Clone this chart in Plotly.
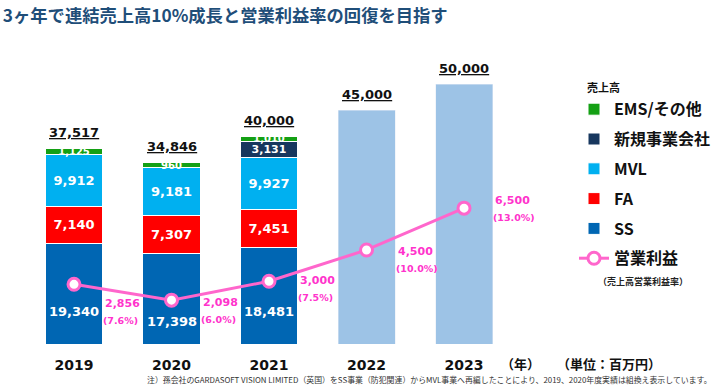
import plotly.graph_objects as go

years = ["2019", "2020", "2021", "2022", "2023"]
ss = [19340, 17398, 18481, None, None]
fa = [7140, 7307, 7451, None, None]
mvl = [9912, 9181, 9927, None, None]
shinki = [None, None, 3131, None, None]
ems = [1125, 960, 1010, None, None]
plan = [None, None, None, 45000, 50000]
totals = [37517, 34846, 40000, 45000, 50000]
profit = [2856, 2098, 3000, 4500, 6500]
margin_pct = ["(7.6%)", "(6.0%)", "(7.5%)", "(10.0%)", "(13.0%)"]

x = list(range(len(years)))
NUM_FONT = "DejaVu Sans"
JP_FONT = "Noto Sans CJK JP"
BW = 0.585

fig = go.Figure()

def seg(name, vals, color, size, rank, show_text=True):
    fig.add_trace(go.Bar(
        x=x, y=vals, name=name, width=BW, marker=dict(color=color, line=dict(width=1, color="white")),
        text=[f"{v:,}" if (v and show_text) else "" for v in vals],
        textposition="inside", insidetextanchor="middle", constraintext="none",
        textfont=dict(family=NUM_FONT, size=size, color="white", weight="bold"),
        legendgroup=name, legendrank=rank, hoverinfo="skip",
    ))

seg("SS", ss, "#0066B3", 13, 5, show_text=False)
seg("FA", fa, "#FF0000", 13, 4)
seg("MVL", mvl, "#00B0F0", 13, 3)
seg("新規事業会社", shinki, "#17375E", 11, 2)
seg("EMS/その他", ems, "#14A014", 10, 1)

fig.add_trace(go.Bar(x=x, y=plan, width=BW, marker=dict(color="#9DC3E6"),
                     showlegend=False, hoverinfo="skip"))

fig.add_trace(go.Scatter(
    x=x, y=profit, yaxis="y2", mode="lines+markers", name="営業利益",
    line=dict(color="#FF66CC", width=3),
    marker=dict(size=12, color="white", line=dict(color="#FF66CC", width=3)),
    legendgroup="op", legendrank=6, hoverinfo="skip",
))

# SS labels
ss_shift = [-18, -23, -16]
for i, v in enumerate(ss):
    if v:
        fig.add_annotation(x=i, y=v / 2, text=f"{v:,}", showarrow=False, yshift=ss_shift[i],
                           font=dict(family=NUM_FONT, size=13, color="white", weight="bold"))

# totals
for i, v in enumerate(totals):
    fig.add_annotation(x=i, y=v, text=f"<u>{v:,}</u>", showarrow=False, yshift=16,
                       yanchor="middle",
                       font=dict(family=NUM_FONT, size=13, color="#111111", weight="bold"))

# profit labels
p_shift = [-19, -2, 1, -2, 8]
for i, v in enumerate(profit):
    fig.add_annotation(x=i + 0.3, y=v, yref="y2", xanchor="left", text=f"{v:,}", showarrow=False,
                       yshift=p_shift[i],
                       font=dict(family=NUM_FONT, size=11, color="#FF33CC", weight="bold"))
    fig.add_annotation(x=i + 0.28, y=v, yref="y2", xanchor="left", text=margin_pct[i], showarrow=False,
                       yshift=p_shift[i] - 17,
                       font=dict(family=NUM_FONT, size=9.5, color="#FF33CC", weight="bold"))

def note(xp, yp, text, size, bold=True, color="#111111", **kw):
    fig.add_annotation(xref="paper", yref="paper", x=xp / 715, y=(344 - yp) / 270, text=text,
                       showarrow=False, xanchor=kw.pop("xanchor", "center"), yanchor="middle",
                       font=dict(family=JP_FONT, size=size, color=color,
                                 weight="bold" if bold else "normal"), **kw)

note(520, 363, "（年）", 13)
note(609, 363, "（単位：百万円）", 13)
note(643, 281, "（売上高営業利益率）", 9, color="#222222")
note(714, 379, "注）孫会社のGARDASOFT VISION LIMITED（英国）をSS事業（防犯関連）からMVL事業へ再編したことにより、2019、2020年度実績は組換え表示しています。",
     7.9, bold=False, color="#333333", xanchor="right")

fig.update_layout(
    width=715, height=387,
    margin=dict(l=0, r=0, t=74, b=43, autoexpand=False),
    paper_bgcolor="white", plot_bgcolor="white",
    barmode="stack",
    title=dict(text="<b>3ヶ年で連結売上高10%成長と営業利益率の回復を目指す</b>",
               x=0.004, xanchor="left", y=1 - 16 / 387, yanchor="middle", yref="container",
               font=dict(family=JP_FONT, size=17.3, color="#1F4E79")),
    xaxis=dict(range=[-0.759, 6.574], tickvals=x, ticktext=years, showgrid=False, zeroline=False,
               showline=False, ticks="", ticklabelstandoff=11, automargin=False,
               tickfont=dict(family=NUM_FONT, size=14, color="#111111", weight="bold")),
    yaxis=dict(range=[0, 51923], visible=False, showgrid=False, automargin=False),
    yaxis2=dict(range=[0, 12919], overlaying="y", visible=False, showgrid=False, automargin=False),
    showlegend=True,
    legend=dict(x=574 / 715, xanchor="left", y=(344 - 78) / 270, yanchor="top",
                traceorder="grouped", tracegroupgap=6, itemwidth=30,
                bgcolor="rgba(0,0,0,0)",
                title=dict(text="\u3000売上高", side="top", font=dict(family=JP_FONT, size=11, color="#111111")),
                font=dict(family=JP_FONT, size=16, color="#111111", weight="bold")),
)

fig.write_html("out.html", config={"displayModeBar": False},
               post_script="document.body.style.margin='0';document.body.style.overflow='hidden';")
